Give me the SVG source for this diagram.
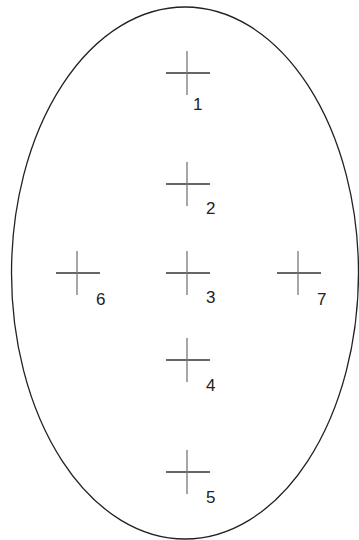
<svg xmlns="http://www.w3.org/2000/svg" width="359" height="540" viewBox="0 0 359 540">
<style>
.h{stroke:#333;stroke-width:1.3}
.v{stroke:#777;stroke-width:1.3}
.t{font-family:"Liberation Sans",Arial,sans-serif;font-size:17px;fill:#222}
</style>
<defs>
<g id="cross"><line class="h" x1="-21" y1="0" x2="23" y2="0"/><line class="v" x1="0" y1="-22" x2="0" y2="22"/></g>
</defs>
<rect width="359" height="540" fill="#fff"/>
<g id="region"><ellipse cx="185" cy="273" rx="173.5" ry="266" fill="none" stroke="#222" stroke-width="1.3"/></g>
<g id="p1"><use href="#cross" x="187" y="73"/><text class="t" x="193" y="110">1</text></g>
<g id="p2"><use href="#cross" x="187" y="184"/><text class="t" x="206" y="214">2</text></g>
<g id="p3"><use href="#cross" x="187" y="273"/><text class="t" x="206" y="303">3</text></g>
<g id="p4"><use href="#cross" x="187" y="360"/><text class="t" x="206" y="391">4</text></g>
<g id="p5"><use href="#cross" x="187" y="472"/><text class="t" x="206" y="503">5</text></g>
<g id="p6"><use href="#cross" x="77" y="273"/><text class="t" x="96" y="305">6</text></g>
<g id="p7"><use href="#cross" x="298" y="273"/><text class="t" x="317" y="305">7</text></g>
</svg>
